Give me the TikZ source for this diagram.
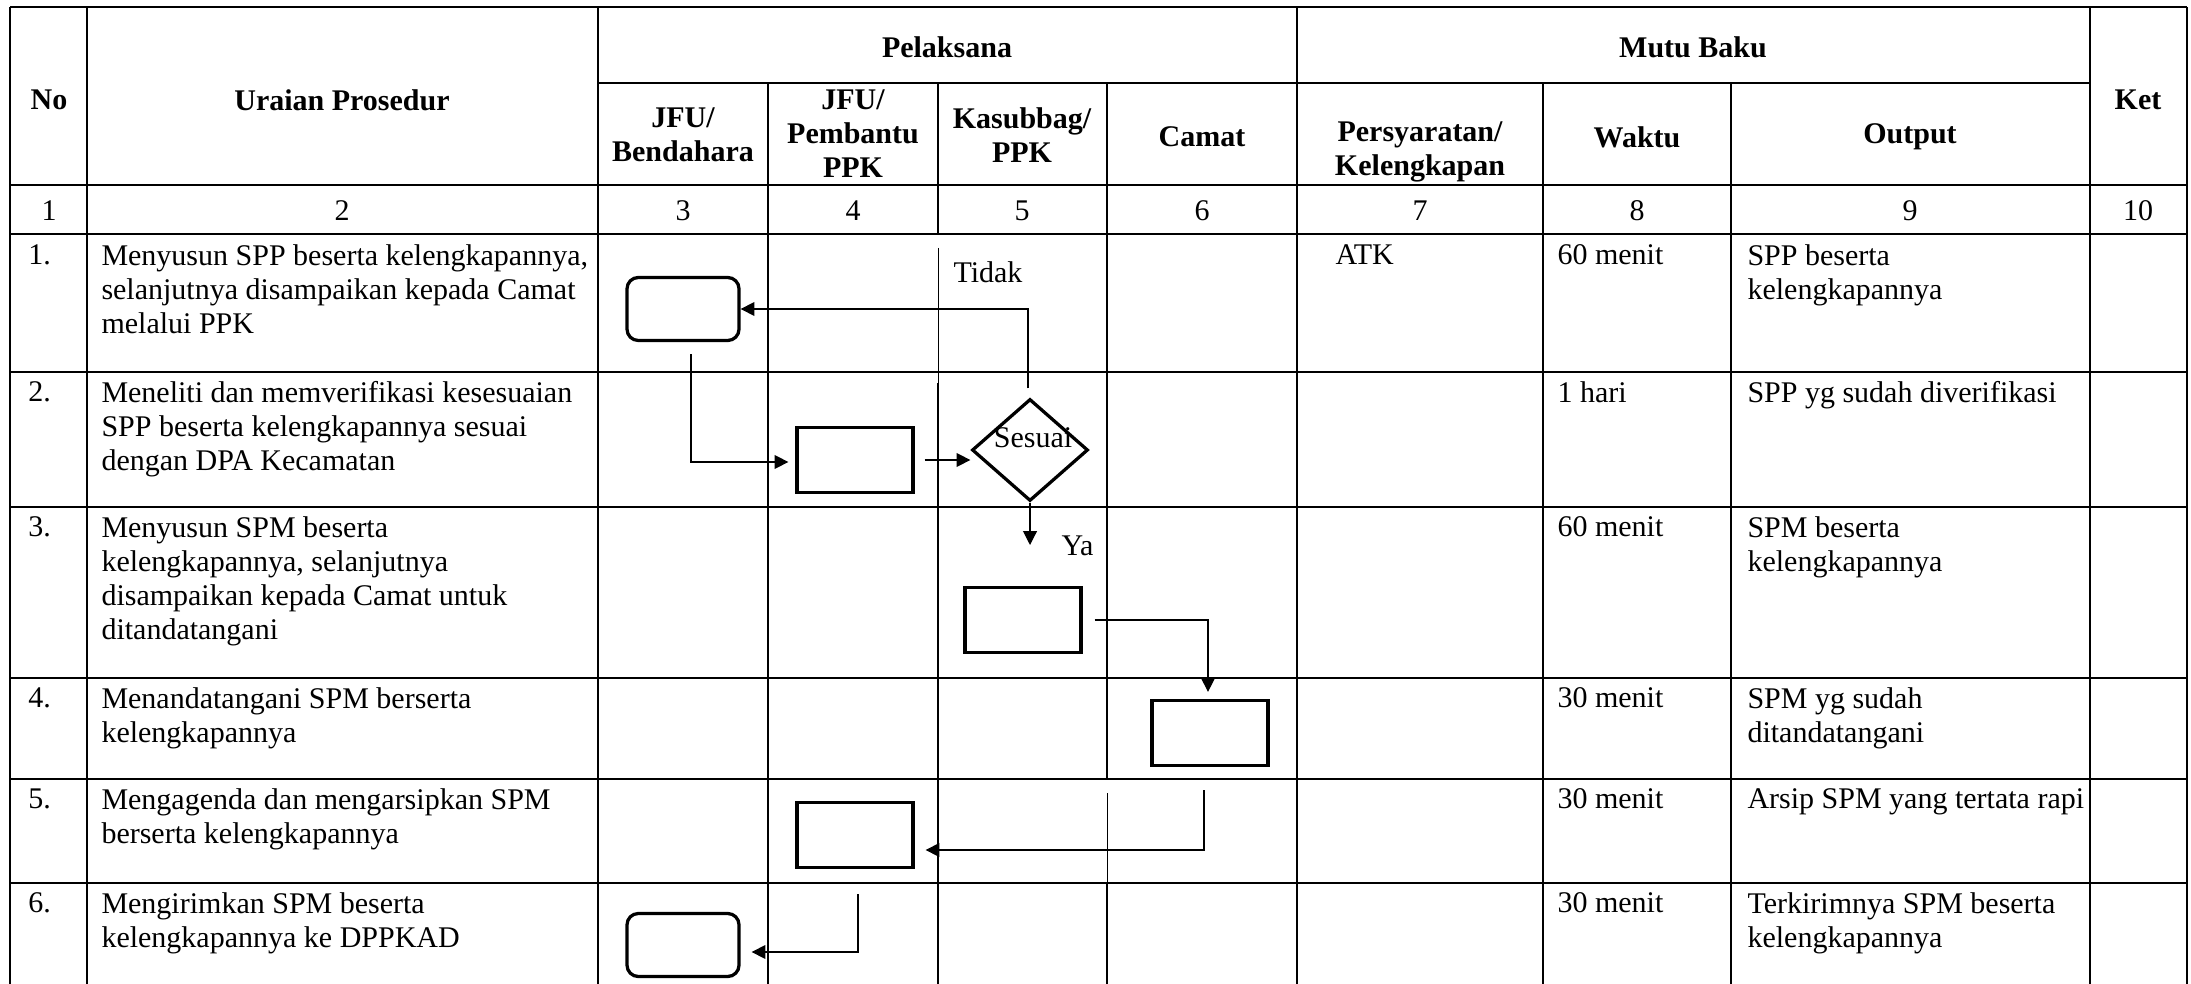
\documentclass[tikz,border=0pt]{standalone}
\usepackage{fontspec}
\setmainfont{Liberation Serif}
\usetikzlibrary{shapes.geometric,arrows.meta,calc}
\begin{document}
\begin{tikzpicture}[x=0.4pt,y=-0.4pt]
\def\pix{0.4pt}
\tikzset{base/.style={inner sep=0pt,font=\fontsize{12}{13.6}\selectfont},
hd/.style={base,font=\fontsize{12}{13.6}\selectfont\bfseries,align=center},
txt/.style={base,anchor=north west,align=left},
tbl/.style={line width=0.6pt},tblthin/.style={line width=0.35pt},
box/.style={draw,line width=1.3pt,minimum width=116*\pix,minimum height=65*\pix,inner sep=0pt},
rbox/.style={box,rounded corners=4.5pt,minimum width=112*\pix,minimum height=63*\pix},
dec/.style={draw,diamond,line width=1.3pt,minimum width=116*\pix,minimum height=102*\pix,inner sep=0pt},
every path/.style={>={Triangle[length=5.5pt,width=5.5pt]}},
conn/.style={->,line width=0.45pt}}
\useasboundingbox (0,0) rectangle (2191,984);
\draw[tbl] (10,7) -- (2187,7) (598,83) -- (2090,83) (10,185) -- (2187,185) (10,234) -- (2187,234)
  (10,372) -- (2187,372) (10,507) -- (2187,507) (10,678) -- (2187,678) (10,779) -- (2187,779) (10,883) -- (2187,883);
\draw[tbl] (10,7) -- (10,984) (87,7) -- (87,984) (598,7) -- (598,984) (1297,7) -- (1297,984) (2090,7) -- (2090,984) (2187,7) -- (2187,984);
\draw[tbl] (768,83) -- (768,984) (1543,83) -- (1543,984) (1731,83) -- (1731,984)
  (938,83) -- (938,234) (938,383) -- (938,984) (1107,83) -- (1107,779) (1107,883) -- (1107,984);
\draw[tblthin] (938,248) -- (938,383) (1107,793) -- (1107,883);
\node[hd] (NO) at (49,100) {No};
\node[hd] (URAIAN) at (342,100) {Uraian Prosedur};
\node[hd] (PEL) at (947,47) {Pelaksana};
\node[hd] (MUTU) at (1693,47) {Mutu Baku};
\node[hd] (KET) at (2138,100) {Ket};
\node[hd] (JFUB) at (683,135) {JFU/\\Bendahara};
\node[hd] (JFUP) at (853,134) {JFU/\\Pembantu\\PPK};
\node[hd] (KASUB) at (1022,135) {Kasubbag/\\PPK};
\node[hd] (CAMAT) at (1202,137) {Camat};
\node[hd] (SYARAT) at (1420,152) {Persyaratan/\\Kelengkapan};
\node[hd] (WAKTU) at (1637,137) {Waktu};
\node[hd] (OUTPUT) at (1910,137) {Output};
\node[base] (K1) at (49,211) {1};
\node[base] (K2) at (342,211) {2};
\node[base] (K3) at (683,211) {3};
\node[base] (K4) at (853,211) {4};
\node[base] (K5) at (1022,211) {5};
\node[base] (K6) at (1202,211) {6};
\node[base] (K7) at (1420,211) {7};
\node[base] (K8) at (1637,211) {8};
\node[base] (K9) at (1910,211) {9};
\node[base] (K10) at (2138,211) {10};
\node[txt] (N1) at (28,244) {1.};
\node[txt] (U1) at (101,244) {Menyusun SPP beserta kelengkapannya,\\selanjutnya disampaikan kepada Camat\\melalui PPK};
\node[txt] (S1) at (1335,244) {ATK};
\node[txt] (W1) at (1557,244) {60 menit};
\node[txt] (O1) at (1747,244) {SPP beserta\\kelengkapannya};
\node[txt] (N2) at (28,381) {2.};
\node[txt] (U2) at (101,381) {Meneliti dan memverifikasi kesesuaian\\SPP beserta kelengkapannya sesuai\\dengan DPA Kecamatan};
\node[txt] (W2) at (1557,381) {1 hari};
\node[txt] (O2) at (1747,381) {SPP yg sudah diverifikasi};
\node[txt] (N3) at (28,516) {3.};
\node[txt] (U3) at (101,516) {Menyusun SPM beserta\\kelengkapannya, selanjutnya\\disampaikan kepada Camat untuk\\ditandatangani};
\node[txt] (W3) at (1557,516) {60 menit};
\node[txt] (O3) at (1747,516) {SPM beserta\\kelengkapannya};
\node[txt] (N4) at (28,687) {4.};
\node[txt] (U4) at (101,687) {Menandatangani SPM berserta\\kelengkapannya};
\node[txt] (W4) at (1557,687) {30 menit};
\node[txt] (O4) at (1747,687) {SPM yg sudah\\ditandatangani};
\node[txt] (N5) at (28,788) {5.};
\node[txt] (U5) at (101,788) {Mengagenda dan mengarsipkan SPM\\berserta kelengkapannya};
\node[txt] (W5) at (1557,788) {30 menit};
\node[txt] (O5) at (1747,788) {Arsip SPM yang tertata rapi};
\node[txt] (N6) at (28,892) {6.};
\node[txt] (U6) at (101,892) {Mengirimkan SPM beserta\\kelengkapannya ke DPPKAD};
\node[txt] (W6) at (1557,892) {30 menit};
\node[txt] (O6) at (1747,892) {Terkirimnya SPM beserta\\kelengkapannya};
\node[rbox] (B1) at (683,309) {};
\node[box] (B2) at (855,460) {};
\node[dec] (DIA) at (1030,450) {};
\node[base] (SESUAI) at (1033,438) {Sesuai};
\node[box] (B3) at (1023,620) {};
\node[box] (B4) at (1210,733) {};
\node[box] (B5) at (855,835) {};
\node[rbox] (B6) at (683,945) {};
\node[base,anchor=west] (TIDAK) at (953,272) {Tidak};
\node[base,anchor=west] (YA) at (1061,546) {Ya};
\coordinate (YAEND) at (1030,545);
\draw[conn] ($(B1.south)+(8,12)$) |- ($(B2.west)+(-7,2)$);
\draw[conn] ($(B2.east)+(10,0)$) -- (B2.east -| DIA.west);
\draw[conn] ($(DIA.north)+(-2,-9)$) |- (B1.east);
\draw[conn] (DIA.south) -- (YAEND);
\draw[conn] ($(B3.east)+(12,0)$) -| ($(B4.north)+(-2,-7)$);
\draw[conn] ($(B4.south)+(-6,23)$) |- ($(B5.east)+(11,15)$);
\draw[conn] ($(B5.south)+(3,25)$) |- ($(B6.east)+(11,7)$);
\end{tikzpicture}
\end{document}
